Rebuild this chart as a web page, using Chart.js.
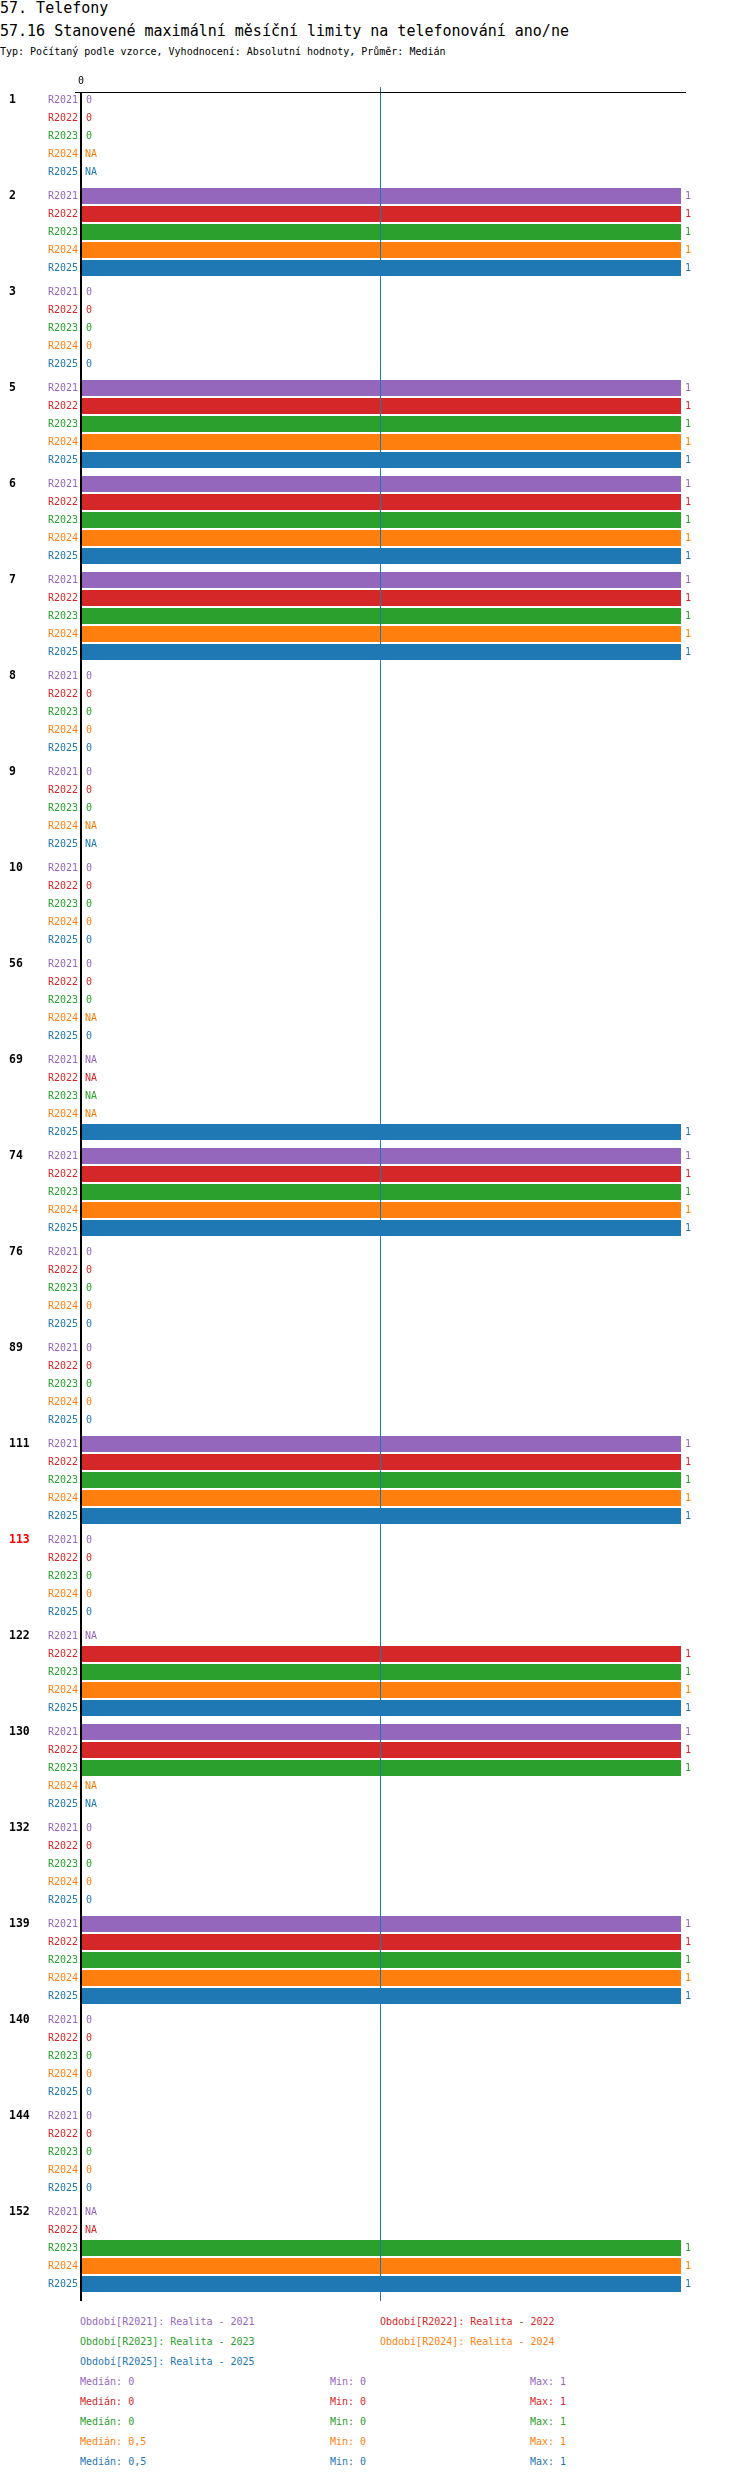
<!DOCTYPE html>
<html>
<head>
<meta charset="utf-8">
<script src="https://cdn.jsdelivr.net/npm/chart.js@4/dist/chart.umd.min.js"></script>
<style>
  body { margin: 0; background: #fff; font-family: "DejaVu Sans Mono", monospace; }
  .t { position: absolute; left: 0; white-space: pre; }
  #title { top: 0; font-size: 15px; line-height: 16px; }
  #subtitle { top: 23px; font-size: 15px; line-height: 16px; }
  #typ { top: 46px; font-size: 10px; line-height: 12px; }
  #wrap { position: absolute; left: 0; top: 0; width: 750px; height: 2310px; }
  .lg { position: absolute; font-size: 10px; line-height: 20px; white-space: pre; }
</style>
</head>
<body>
<div class="t" id="title">57. Telefony</div>
<div class="t" id="subtitle">57.16 Stanovené maximální měsíční limity na telefonování ano/ne</div>
<div class="t" id="typ">Typ: Počítaný podle vzorce, Vyhodnocení: Absolutní hodnoty, Průměr: Medián</div>
<div id="wrap"><canvas id="myChart"></canvas></div>
<div id="legend"></div>
<script>
// Data (null = NA)
const groups = ["1", "2", "3", "5", "6", "7", "8", "9", "10", "56", "69", "74", "76", "89", "111", "113", "122", "130", "132", "139", "140", "144", "152"];
const redGroups = ["113"];
const r2021 = [0, 1, 0, 1, 1, 1, 0, 0, 0, 0, null, 1, 0, 0, 1, 0, null, 1, 0, 1, 0, 0, null];
const r2022 = [0, 1, 0, 1, 1, 1, 0, 0, 0, 0, null, 1, 0, 0, 1, 0, 1, 1, 0, 1, 0, 0, null];
const r2023 = [0, 1, 0, 1, 1, 1, 0, 0, 0, 0, null, 1, 0, 0, 1, 0, 1, 1, 0, 1, 0, 0, 1];
const r2024 = [null, 1, 0, 1, 1, 1, 0, null, 0, null, null, 1, 0, 0, 1, 0, 1, null, 0, 1, 0, 0, 1];
const r2025 = [null, 1, 0, 1, 1, 1, 0, null, 0, 0, 1, 1, 0, 0, 1, 0, 1, null, 0, 1, 0, 0, 1];
const seriesNames = ["R2021", "R2022", "R2023", "R2024", "R2025"];
const seriesTitles = ["Realita - 2021", "Realita - 2022", "Realita - 2023", "Realita - 2024", "Realita - 2025"];
const colors = ["#9467bd", "#d62728", "#2ca02c", "#ff7f0e", "#1f77b4"];
const xTicks = [0];
const medianLine = 0.5;

const allSeries = [r2021, r2022, r2023, r2024, r2025];
const FONT = '"DejaVu Sans Mono", monospace';

function median(arr) {
  const v = arr.filter((x) => x !== null).sort((a, b) => a - b);
  const m = Math.floor(v.length / 2);
  return v.length % 2 ? v[m] : (v[m - 1] + v[m]) / 2;
}
const fmt = (n) => String(n).replace(".", ",");

// labels, axis lines and reference line
const labelPlugin = {
  id: "labels",
  afterDatasetsDraw(chart) {
    const c = chart.ctx;
    const area = chart.chartArea;
    const xs = chart.scales.x;
    const base = xs.getPixelForValue(0);
    c.save();

    // median line
    const mx = Math.round(xs.getPixelForValue(medianLine)) - 1.5;
    c.strokeStyle = "#1f77b4";
    c.lineWidth = 1;
    c.beginPath();
    c.moveTo(mx, area.top - 1);
    c.lineTo(mx, area.bottom + 5);
    c.stroke();

    // axes
    c.strokeStyle = "#000";
    c.lineWidth = 1;
    c.beginPath();
    c.moveTo(area.left - 7, area.top + 4.5);
    c.lineTo(area.right + 5, area.top + 4.5);
    c.stroke();
    c.lineWidth = 2;
    c.beginPath();
    c.moveTo(base - 1, area.top + 4);
    c.lineTo(base - 1, area.bottom + 5);
    c.stroke();

    // tick labels
    c.font = "10px " + FONT;
    c.fillStyle = "#000";
    c.textAlign = "center";
    c.textBaseline = "middle";
    xTicks.forEach((t) => c.fillText(String(t), xs.getPixelForValue(t) - 1, area.top - 7));

    chart.data.datasets.forEach((ds, i) => {
      const meta = chart.getDatasetMeta(i);
      meta.data.forEach((el, j) => {
        const y = el.y;
        c.font = "10px " + FONT;
        c.fillStyle = colors[i];
        c.textAlign = "right";
        c.fillText(seriesNames[i], base - 4, y);
        c.textAlign = "left";
        const v = ds.data[j];
        if (v === null) {
          c.fillText("NA", base + 3, y);
        } else {
          const x = v > 0 ? el.x : base;
          c.fillText(String(v), x + 4, y);
        }
        if (i === 0) {
          c.font = "bold 11.5px " + FONT;
          c.fillStyle = redGroups.includes(groups[j]) ? "#ff0000" : "#000";
          c.fillText(groups[j], 9, y);
        }
      });
    });
    c.restore();
  },
};

const ctx = document.getElementById("myChart").getContext("2d");
new Chart(ctx, {
  type: "bar",
  data: {
    labels: groups,
    datasets: allSeries.map((d, i) => ({
      label: seriesNames[i],
      data: d,
      backgroundColor: colors[i],
      borderWidth: 0,
      barPercentage: 16 / 18,
      categoryPercentage: 90 / 96,
    })),
  },
  options: {
    indexAxis: "y",
    responsive: true,
    maintainAspectRatio: false,
    animation: false,
    layout: { padding: { left: 82, right: 69, top: 88, bottom: 14 } },
    plugins: { legend: { display: false }, tooltip: { enabled: false } },
    scales: {
      x: { display: false, min: 0, max: 1 },
      y: { display: false },
    },
  },
  plugins: [labelPlugin],
});

// legend and summary text
const legend = document.getElementById("legend");
function addLine(text, color, left, top) {
  const d = document.createElement("div");
  d.className = "lg";
  d.style.left = left + "px";
  d.style.top = top + "px";
  d.style.color = color;
  d.textContent = text;
  legend.appendChild(d);
}
const legendCols = [80, 380];
seriesNames.forEach((n, i) => {
  addLine("Období[" + n + "]: " + seriesTitles[i], colors[i], legendCols[i % 2], 2312 + Math.floor(i / 2) * 20);
});
allSeries.forEach((d, i) => {
  const vals = d.filter((x) => x !== null);
  const top = 2372 + i * 20;
  addLine("Medián: " + fmt(median(d)), colors[i], 80, top);
  addLine("Min: " + fmt(Math.min(...vals)), colors[i], 330, top);
  addLine("Max: " + fmt(Math.max(...vals)), colors[i], 530, top);
});
</script>
</body>
</html>
